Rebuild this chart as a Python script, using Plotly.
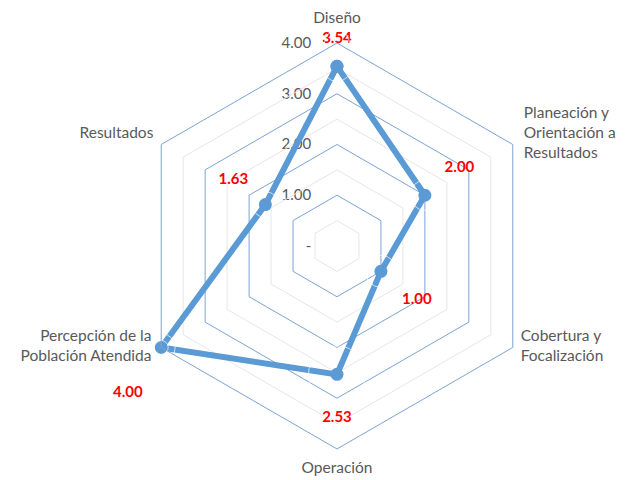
import plotly.graph_objects as go

# ---- data ----
categories = ["Diseño", "Planeación y Orientación a Resultados", "Cobertura y Focalización",
              "Operación", "Percepción de la Población Atendida", "Resultados"]
category_labels = [
    "Diseño",
    "Planeación y<br>Orientación a<br>Resultados<br> ",
    "Cobertura y<br>Focalización",
    "Operación",
    "Percepción de la<br>Población Atendida",
    "Resultados<br> ",
]
values = [3.54, 2.00, 1.00, 2.53, 4.00, 1.63]
value_labels = ["3.54", "2.00", "1.00", "2.53", "<br>4.00", "1.63"]
r_max = 4
radial_tickvals = [0, 1, 2, 3, 4]
radial_ticktext = ["-", "1.00", "2.00", "3.00", "4.00"]
minor_levels = [0.5, 1.5, 2.5, 3.5]

# ---- styles ----
label_positions = ["top center", "top right", "bottom right", "bottom center", "bottom left", "top left"]
label_pads = [30, 30, 32, 57, 28, 26]
cat_positions = ["top center", "middle right", "middle right", "bottom center", "middle left", "middle left"]
cat_pads = [25, 16, 11, 19, 14, 11]
FONT = "Lato"
GRID_BLUE = "#7BA3D6"
LINE_BLUE = "#5B9BD5"
GRAY_TXT = "#595959"

fig = go.Figure()

closed_theta = categories + [categories[0]]

# minor gridlines (light gray hexagons)
for lvl in minor_levels:
    fig.add_trace(go.Scatterpolar(
        r=[lvl] * len(closed_theta), theta=closed_theta, mode="lines",
        line=dict(color="#E6E6E6", width=1), hoverinfo="skip", showlegend=False,
    ))

# data series
fig.add_trace(go.Scatterpolar(
    r=values + [values[0]], theta=closed_theta, mode="lines+markers",
    line=dict(color=LINE_BLUE, width=6),
    marker=dict(color=LINE_BLUE, size=13),
    showlegend=False,
))

# data labels
fig.add_trace(go.Scatterpolar(
    r=values, theta=categories, mode="markers+text",
    text=value_labels, textposition=label_positions,
    textfont=dict(family=FONT, size=15, color="#FF0000", weight="bold"),
    marker=dict(size=label_pads, color="rgba(0,0,0,0)"),
    hoverinfo="skip", showlegend=False, cliponaxis=False,
))

# category labels at the outer ring
fig.add_trace(go.Scatterpolar(
    r=[r_max] * len(categories), theta=categories, mode="markers+text",
    text=category_labels, textposition=cat_positions,
    textfont=dict(family=FONT, size=15.5, color=GRAY_TXT),
    marker=dict(size=cat_pads, color="rgba(0,0,0,0)"),
    hoverinfo="skip", showlegend=False, cliponaxis=False,
))

fig.update_layout(
    width=626, height=480,
    margin=dict(l=0, r=0, t=0, b=0),
    paper_bgcolor="white",
    font=dict(family=FONT, color=GRAY_TXT),
    polar=dict(
        domain=dict(x=[0.2013, 0.8498], y=[0.0813, 0.9271]),
        bgcolor="white",
        gridshape="linear",
        radialaxis=dict(
            range=[0, r_max], tickvals=radial_tickvals, ticktext=radial_ticktext,
            angle=90, tickangle=90, side="counterclockwise", showline=False,
            gridcolor=GRID_BLUE, gridwidth=1, layer="below traces",
            ticks="outside", ticklen=20, tickcolor="rgba(0,0,0,0)",
            tickfont=dict(family=FONT, size=15, color=GRAY_TXT),
        ),
        angularaxis=dict(
            rotation=90, direction="clockwise", showgrid=False,
            linecolor=GRID_BLUE, linewidth=1, showticklabels=False, ticks="",
        ),
    ),
)

fig.write_html("out.html")
